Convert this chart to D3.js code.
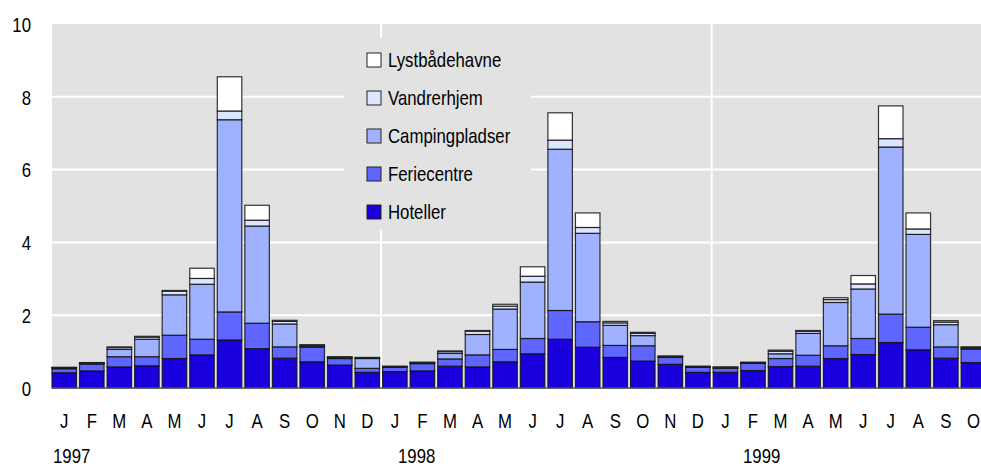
<!DOCTYPE html>
<html>
<head>
<meta charset="utf-8">
<script src="https://cdn.jsdelivr.net/npm/d3@7/dist/d3.min.js"></script>
<style>
  body { margin: 0; background: #fff; }
  svg { display: block; }
  text { font-family: "Liberation Sans", Arial, sans-serif; fill: #000; }
</style>
</head>
<body>
<svg id="chart" width="981" height="466"></svg>
<script>
// ---- Data ----
const months = ["J","F","M","A","M","J","J","A","S","O","N","D",
                "J","F","M","A","M","J","J","A","S","O","N","D",
                "J","F","M","A","M","J","J","A","S","O"];
const years = [1997, 1998, 1999];
const seriesNames = ["Hoteller","Feriecentre","Campingpladser","Vandrerhjem","Lystbådehavne"];
const hoteller = [0.42,0.47,0.58,0.61,0.81,0.91,1.32,1.08,0.82,0.72,0.63,0.43,
                  0.45,0.47,0.60,0.58,0.72,0.94,1.34,1.12,0.84,0.74,0.65,0.43,
                  0.43,0.48,0.59,0.60,0.81,0.92,1.25,1.05,0.82,0.70];
const feriecentre = [0.11,0.19,0.28,0.25,0.64,0.43,0.77,0.70,0.31,0.40,0.18,0.11,
                     0.12,0.20,0.20,0.33,0.34,0.42,0.79,0.70,0.33,0.42,0.19,0.14,
                     0.11,0.20,0.22,0.30,0.35,0.44,0.78,0.62,0.31,0.37];
const campingpladser = [0.02,0.02,0.20,0.48,1.11,1.51,5.28,2.67,0.63,0.03,0.02,0.27,
                        0.01,0.02,0.15,0.56,1.11,1.55,4.43,2.43,0.55,0.28,0.02,0.01,
                        0.02,0.01,0.13,0.60,1.19,1.36,4.59,2.55,0.61,0.03];
const vandrerhjem = [0.01,0.01,0.05,0.06,0.10,0.16,0.24,0.16,0.07,0.02,0.02,0.02,
                     0.01,0.01,0.05,0.09,0.08,0.16,0.25,0.16,0.07,0.06,0.01,0.01,
                     0.01,0.01,0.07,0.06,0.08,0.14,0.23,0.15,0.07,0.02];
const lystbaadehavne = [0.01,0.01,0.02,0.02,0.02,0.28,0.94,0.41,0.03,0.02,0.01,0.01,
                        0.01,0.01,0.02,0.02,0.05,0.26,0.75,0.40,0.04,0.03,0.01,0.01,
                        0.01,0.01,0.03,0.02,0.05,0.23,0.90,0.44,0.04,0.01];
const yTicks = [0, 2, 4, 6, 8, 10];

// ---- Build table ----
const seriesValues = [hoteller, feriecentre, campingpladser, vandrerhjem, lystbaadehavne];
const table = months.map((m, i) => {
  const row = { idx: i, month: m };
  seriesNames.forEach((s, k) => row[s] = seriesValues[k][i]);
  return row;
});
const colors = ["#1a00dc", "#5f66ff", "#a0b2ff", "#dde6ff", "#ffffff"];

// ---- Layout ----
const svg = d3.select("#chart");
const plotLeft = 52, plotTop = 24, plotBottom = 388;
const step = 27.55, bw = 24.5;
const pad = 1 - bw / step;
const narrow = "scale(0.84,1)";
const fs = 20;
const x = d3.scaleBand()
  .domain(table.map(d => d.idx))
  .range([plotLeft, plotLeft + (months.length - pad) * step])
  .paddingInner(pad).paddingOuter(0);
const y = d3.scaleLinear().domain([0, 10]).range([plotBottom, plotTop]);
const yearX = d3.scaleLinear().domain([1997, 1999]).range([53, 743]);

// background
svg.append("rect").attr("x", plotLeft).attr("y", y(10))
  .attr("width", 981 - plotLeft).attr("height", y(0) - y(10)).attr("fill", "#e2e2e2");

// horizontal gridlines
svg.append("g").selectAll("line").data(yTicks.filter(t => t > 0 && t < 10)).join("line")
  .attr("x1", plotLeft).attr("x2", 981)
  .attr("y1", d => y(d)).attr("y2", d => y(d))
  .attr("stroke", "#fff").attr("stroke-width", 2);

// vertical gridlines at year boundaries
svg.append("g").selectAll("line").data([12, 24]).join("line")
  .attr("x1", d => x(d) - step * pad / 2).attr("x2", d => x(d) - step * pad / 2)
  .attr("y1", y(10)).attr("y2", y(0))
  .attr("stroke", "#fff").attr("stroke-width", 2);

// legend box background (covers gridlines)
svg.append("rect").attr("x", 344).attr("y", 38).attr("width", 187).attr("height", 191)
  .attr("fill", "#e2e2e2");

// stacked bars
const stack = d3.stack().keys(seriesNames)(table);
svg.append("g").selectAll("g").data(stack).join("g")
  .attr("fill", (d, i) => colors[i])
  .selectAll("rect").data(d => d).join("rect")
  .attr("x", d => x(d.data.idx))
  .attr("width", x.bandwidth())
  .attr("y", d => y(d[1]))
  .attr("height", d => y(d[0]) - y(d[1]))
  .attr("stroke", "#111").attr("stroke-width", 1.2).attr("stroke-opacity", 0.85);

// baseline
svg.append("line").attr("x1", plotLeft).attr("x2", 981).attr("y1", y(0)).attr("y2", y(0))
  .attr("stroke", "#555").attr("stroke-width", 1.5);

// y axis labels
const yAxis = d3.axisLeft(y).tickValues(yTicks).tickSize(0).tickPadding(0);
const gy = svg.append("g").attr("transform", "translate(31,0)").call(yAxis);
gy.select(".domain").remove();
gy.selectAll("text").attr("font-size", fs).attr("dy", "0.36em").attr("x", 0)
  .attr("transform", narrow)
  .style("font-family", '"Liberation Sans", Arial, sans-serif');

// month labels
const xAxis = d3.axisBottom(x).tickFormat(i => months[i]).tickSize(0).tickPadding(0);
const gx = svg.append("g").attr("transform", "translate(0,428)").call(xAxis);
gx.select(".domain").remove();
gx.selectAll("text").attr("font-size", fs).attr("dy", 0).attr("y", 0)
  .attr("transform", narrow)
  .style("font-family", '"Liberation Sans", Arial, sans-serif');

// year labels
svg.append("g").selectAll("g").data(years).join("g")
  .attr("transform", d => `translate(${yearX(d)},463)`)
  .append("text").attr("transform", narrow)
  .attr("font-size", fs).text(d => d);

// legend
const legendOrder = seriesNames.slice().reverse();
const lg = svg.append("g").selectAll("g").data(legendOrder).join("g")
  .attr("transform", (d, i) => `translate(367,${60 + i * 38})`);
lg.append("rect").attr("x", 0).attr("y", -7).attr("width", 14).attr("height", 14)
  .attr("fill", d => colors[seriesNames.indexOf(d)])
  .attr("stroke", "#222").attr("stroke-width", 1);
lg.append("g").attr("transform", "translate(21,0)")
  .append("text").attr("transform", narrow).attr("dy", "0.36em")
  .attr("font-size", fs).text(d => d);
</script>
</body>
</html>
